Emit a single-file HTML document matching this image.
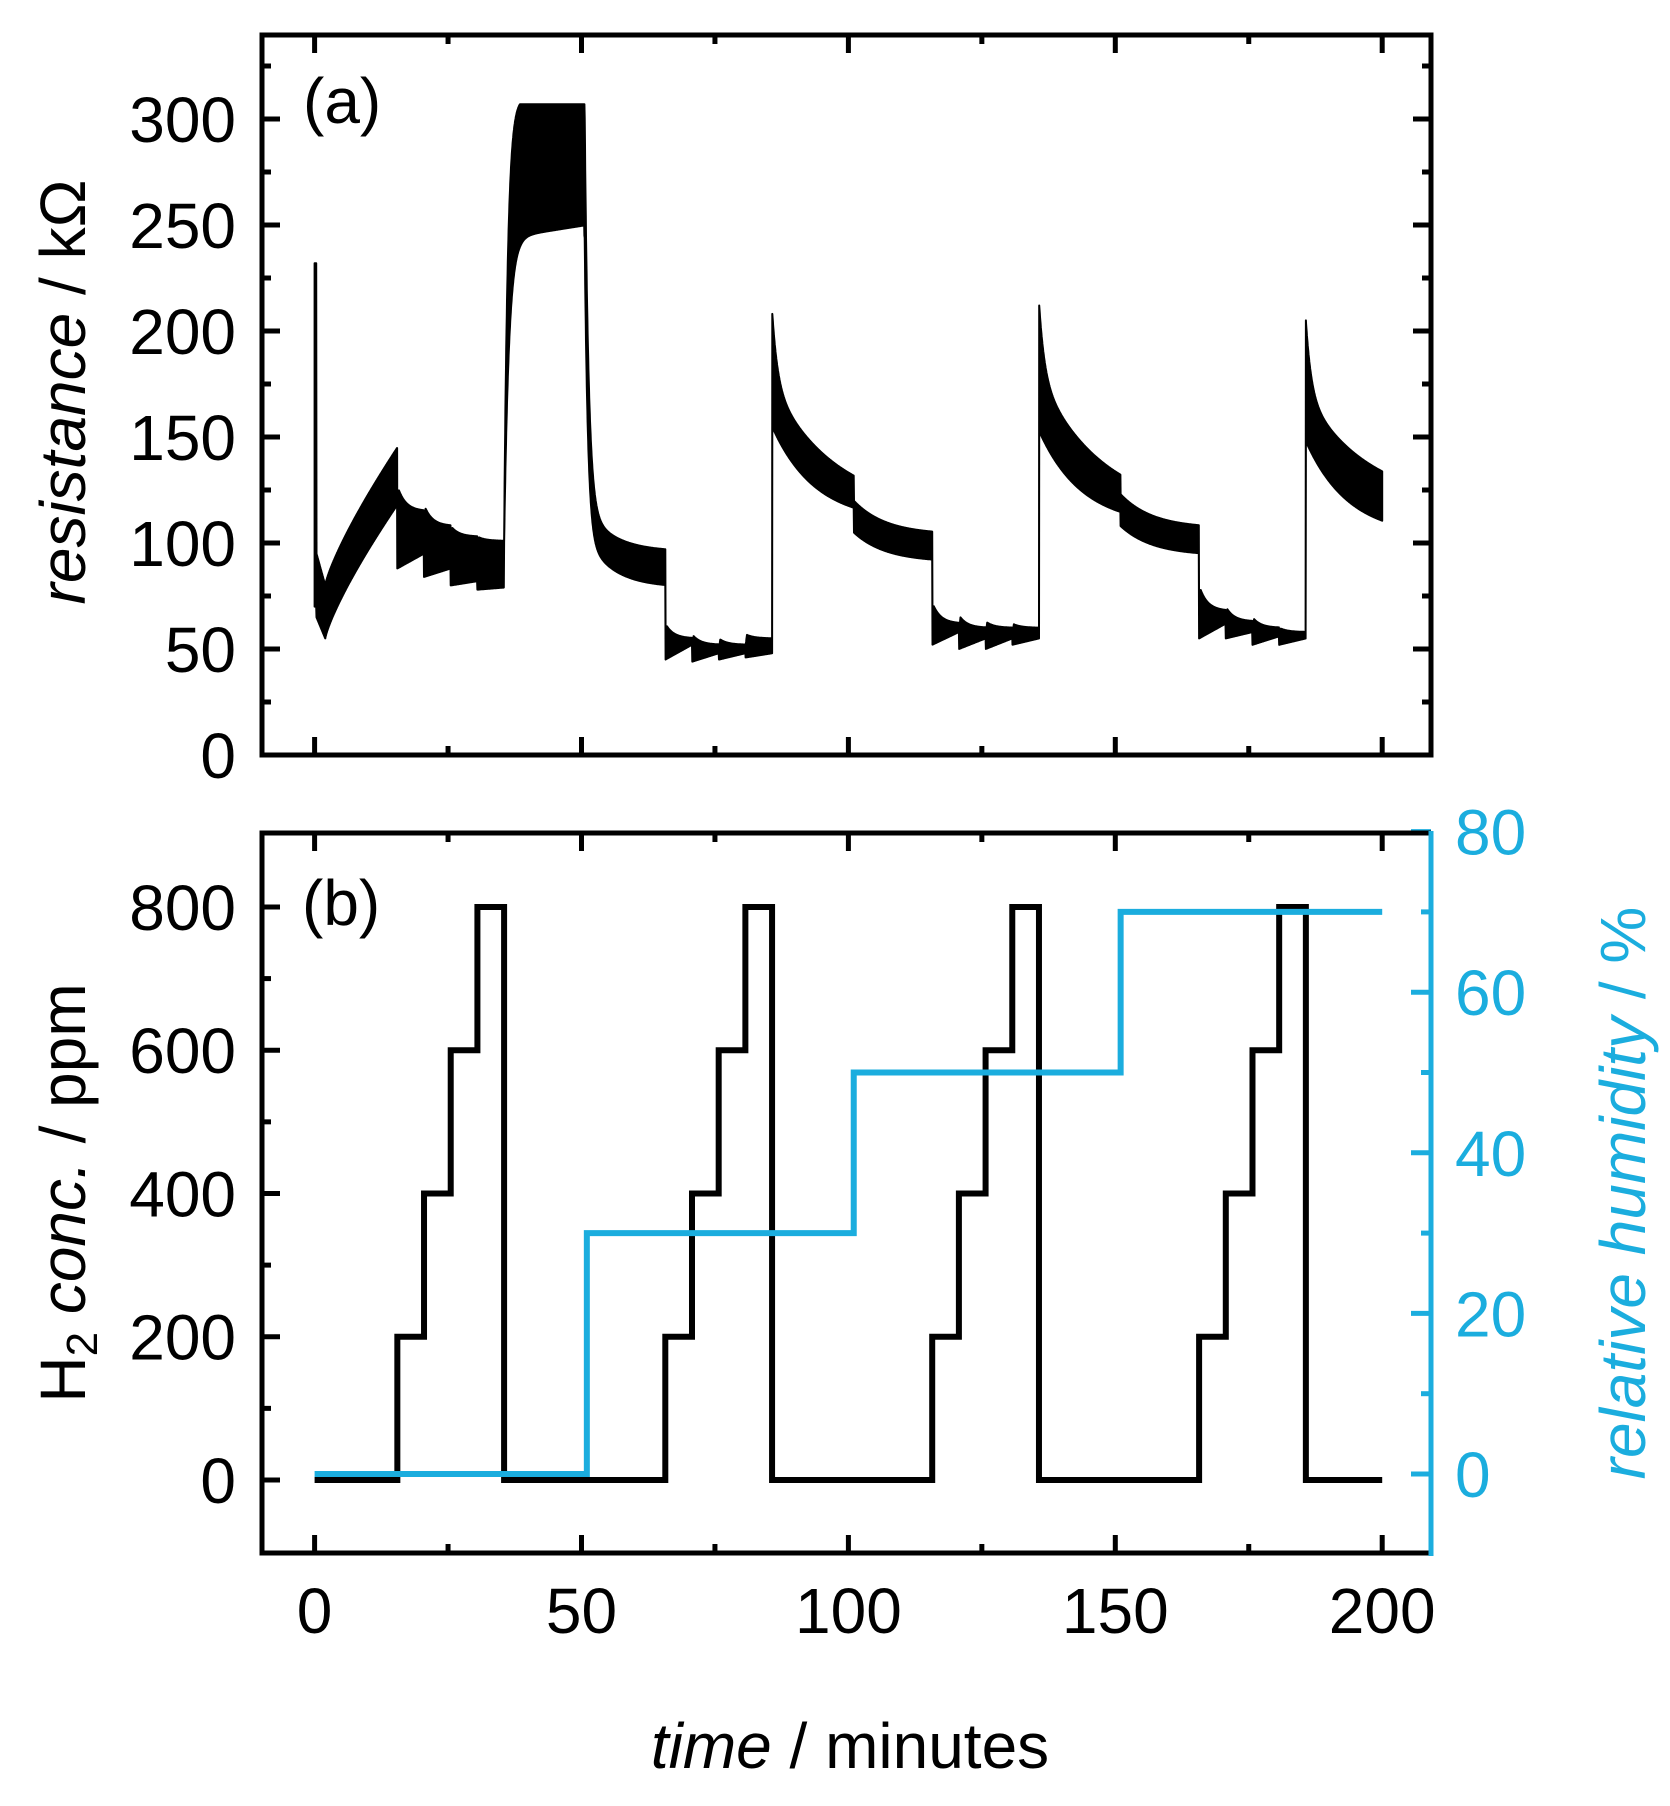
<!DOCTYPE html>
<html><head><meta charset="utf-8">
<style>
html,body{margin:0;padding:0;background:#fff;}
svg{display:block;}
text{font-family:"Liberation Sans",sans-serif;font-size:64px;}
</style></head>
<body>
<svg id="s" width="1670" height="1806" viewBox="0 0 1670 1806" xmlns="http://www.w3.org/2000/svg">
<defs>
<clipPath id="ca"><rect x="262" y="35" width="1169" height="720"/></clipPath>
<clipPath id="cb"><rect x="262" y="833" width="1169" height="720"/></clipPath>
</defs>
<path id="band" clip-path="url(#ca)" fill="#000" stroke="#000" stroke-width="2" stroke-linejoin="round" d=""/>
<path id="h2" clip-path="url(#cb)" fill="none" stroke="#000" stroke-width="6" d=""/>
<path id="rh" clip-path="url(#cb)" fill="none" stroke="#1BADDE" stroke-width="6" d=""/>
<g id="ticks"></g>
<rect x="262" y="35" width="1169" height="720" fill="none" stroke="#000" stroke-width="5"/>
<path d="M1431,833 L262,833 L262,1553 L1431,1553" fill="none" stroke="#000" stroke-width="5"/>
<line x1="1431" y1="831" x2="1431" y2="1556" stroke="#1BADDE" stroke-width="5"/>
<g id="labels"></g>
<text x="303" y="123">(a)</text>
<text x="302" y="925">(b)</text>
<text x="850" y="1768" text-anchor="middle"><tspan font-style="italic">time</tspan> / minutes</text>
<text transform="translate(85,392) rotate(-90)" text-anchor="middle"><tspan font-style="italic">resistance</tspan> / kΩ</text>
<text transform="translate(85,1193) rotate(-90)" text-anchor="middle">H<tspan font-size="44" dy="12">2</tspan><tspan dy="-12"> </tspan><tspan font-style="italic">conc.</tspan> / ppm</text>
<text transform="translate(1645,1193) rotate(-90)" text-anchor="middle" fill="#1BADDE"><tspan font-style="italic">relative humidity</tspan> / %</text>
</svg>
<script>
var X=function(t){return 314.6+t*5.338;};
var YA=function(r){return 755-r*2.12;};
var YP=function(p){return 1480-p*0.7163;};
var YR=function(h){return 1474-h*8.03;};
function saw(t,t0,steps){
  var k=Math.min(3,Math.floor((t-t0)/5)); var s=steps[k]; var d=t-(t0+5*k); var f=d/5;
  var lo=s[0]+(s[1]-s[0])*f;
  var hi=s[3]+(s[2]-s[3])*Math.exp(-d/1.5);
  if(d<0.3){hi=lo+(hi-lo)*(0.4+2*d);}
  return [lo,hi];
}
function spike(t,t0,pk,hiA,loA){
  var d=t-t0;
  var hi=hiA+35*Math.exp(-d)+(pk-35-hiA)*Math.exp(-d/12);
  var lo=loA+45*Math.exp(-d/8);
  return [lo,hi];
}
function env(t){
  if(t<0.35) return [70,232];
  if(t<2){var f=(t-0.35)/1.65; return [65-10*f,95-15*f];}
  if(t<15.5){var f=Math.pow((t-2)/13.5,0.8); return [55+63*f,80+65*f];}
  if(t<35.5) return saw(t,15.5,[[88,95,127,115],[84,88,118,108],[80,82,108,103],[78,79,103,101]]);
  if(t<50.5){var d=t-35.5; return [100+145*(1-Math.exp(-d/0.9))+0.4*Math.max(0,d-3), Math.min(307,100+210*(1-Math.exp(-d/0.7)))];}
  if(t<65.7){var d=t-50.5; return [Math.min(245,79+166*Math.exp(-d/0.6)+25*Math.exp(-d/5)), Math.min(307,96+211*Math.exp(-d/0.7)+22*Math.exp(-d/5))];}
  if(t<85.7) return saw(t,65.7,[[45,52,62,55],[44,48,57,52],[45,48,55,52],[46,48,57,55]]);
  if(t<101){return spike(t,85.7,210,115,110);}
  if(t<115.7){var d=t-101; return [91+14*Math.exp(-d/6),104+16*Math.exp(-d/6)];}
  if(t<135.7) return saw(t,115.7,[[52,58,72,62],[50,55,66,60],[50,55,63,60],[52,55,62,60]]);
  if(t<151){return spike(t,135.7,214,114,108);}
  if(t<165.7){var d=t-151; return [94+14*Math.exp(-d/6),107+16*Math.exp(-d/6)];}
  if(t<185.7) return saw(t,165.7,[[55,62,80,68],[55,58,70,63],[52,56,65,60],[52,55,60,58]]);
  var r=spike(t,185.7,205,118,103); return r;
}
var up=[],dn=[];
for(var t=0;t<=200.001;t+=0.05){var e=env(t);up.push(X(t).toFixed(1)+","+YA(e[1]).toFixed(1));dn.push(X(t).toFixed(1)+","+YA(e[0]).toFixed(1));}
dn.reverse();
document.getElementById("band").setAttribute("d","M"+up.join(" L")+" L"+dn.join(" L")+"Z");
var d="M"+X(0)+","+YP(0);
[15.5,65.7,115.7,165.7].forEach(function(t0){
  d+=" L"+X(t0)+","+YP(0);
  for(var k=0;k<4;k++){d+=" L"+X(t0+5*k)+","+YP(200*(k+1))+" L"+X(t0+5*k+5)+","+YP(200*(k+1));}
  d+=" L"+X(t0+20)+","+YP(0);
});
d+=" L"+X(200)+","+YP(0);
document.getElementById("h2").setAttribute("d",d);
var r="M"+X(0)+","+YR(0)+" L"+X(51)+","+YR(0)+" L"+X(51)+","+YR(30)+" L"+X(101)+","+YR(30)+" L"+X(101)+","+YR(50)+" L"+X(151)+","+YR(50)+" L"+X(151)+","+YR(70)+" L"+X(200)+","+YR(70);
document.getElementById("rh").setAttribute("d",r);
var g="",L="";
function ln(x1,y1,x2,y2,c){g+='<line x1="'+x1+'" y1="'+y1+'" x2="'+x2+'" y2="'+y2+'" stroke="'+(c||"#000")+'" stroke-width="5"/>';}
for(var t=0;t<=200;t+=25){var x=X(t),m=(t%50==0)?18:9;
  ln(x,755,x,755-m);ln(x,35,x,35+m);ln(x,1553,x,1553-m);ln(x,833,x,833+m);
  if(t%50==0)L+='<text x="'+x+'" y="1633" text-anchor="middle">'+t+'</text>';}
for(var v=0;v<=325;v+=25){var y=YA(v);if(y<38)continue;var m=(v%50==0)?18:9;ln(262,y,262+m,y);ln(1431,y,1431-m,y);
  if(v%50==0&&v<=300)L+='<text x="236" y="'+(y+23)+'" text-anchor="end">'+v+'</text>';}
for(var v=0;v<=800;v+=100){var y=YP(v);var m=(v%200==0)?18:9;ln(262,y,262+m,y);
  if(v%200==0)L+='<text x="236" y="'+(y+23)+'" text-anchor="end">'+v+'</text>';}
for(var v=0;v<=80;v+=10){var y=YR(v);var m=(v%20==0)?20:10;ln(1431,y,1431-m,y,"#1BADDE");
  if(v%20==0)L+='<text x="1455" y="'+(y+23)+'" fill="#1BADDE">'+v+'</text>';}
document.getElementById("ticks").innerHTML=g;
document.getElementById("labels").innerHTML=L;
</script>
</body></html>
